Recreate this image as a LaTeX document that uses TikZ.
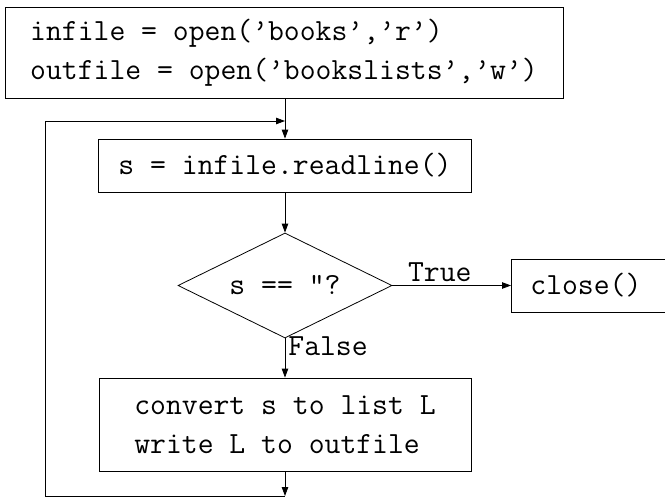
\documentclass[tikz,border=0pt]{standalone}
\usepackage{fontspec}
\usetikzlibrary{shapes.geometric,arrows.meta}

\begin{document}
\begin{tikzpicture}[x=1pt,y=-1pt,line width=0.8pt,
    every node/.style={font=\fontsize{30.8}{39}\selectfont\ttfamily},
    box/.style={draw,rectangle,inner sep=0pt,align=left},
    arr/.style={-{Triangle[length=9pt,width=6.5pt]}}]
  \useasboundingbox (0,0) rectangle (665,498);
  \node[box,minimum width=558,minimum height=91] (init) at (284,52.5)
    {infile = open(’books’,’r’)\\outfile = open(’bookslists’,’w’)};
  \node[box,minimum width=373,minimum height=53] (readln) at (285,165.5)
    {s = infile.readline()};
  \node[draw,diamond,aspect=2,inner sep=0pt,minimum width=214,minimum height=105] (test) at (285,285.5)
    {s == ”?};
  \node[box,anchor=west,minimum height=53,inner xsep=19pt,text width=140pt] (closef) at (511,285.5)
    {close()};
  \node[box,minimum width=372,minimum height=93] (conv) at (285,424.5)
    {convert s to list L\\write L to outfile};
  \coordinate (jn) at (285,121);
  \coordinate (lb) at (285,496);
  \coordinate (lbl) at (45,496);
  \draw (init.south -| jn) -- (jn);
  \draw[arr] (jn) -- (readln.north);
  \draw[arr] (readln.south) -- (test.north);
  \draw[arr] (test.east) -- node[pos=0.4,above,inner sep=3pt] {True} (closef.west);
  \draw[arr] (test.south) -- node[pos=0.2,anchor=west,inner sep=3pt] {False} (conv.north);
  \draw[arr] (conv.south) -- (lb);
  \draw[arr] (lb) -- (lbl) |- (jn);
\end{tikzpicture}
\end{document}
